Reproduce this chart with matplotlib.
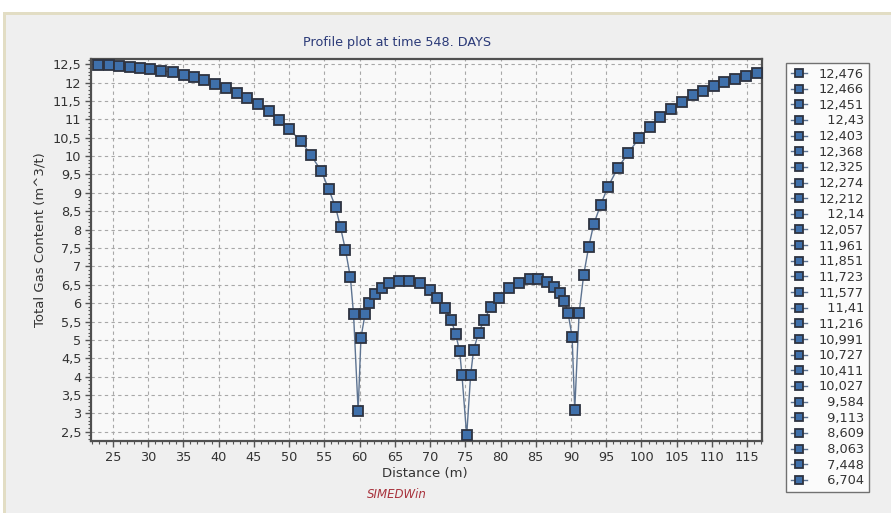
import matplotlib
matplotlib.use("Agg")
import matplotlib.pyplot as plt
from matplotlib.ticker import MultipleLocator, FuncFormatter
from matplotlib.patches import Rectangle

# ---- data ----
distance = [22.9, 24.4, 25.9, 27.4, 28.8, 30.3, 31.9, 33.5, 35.1, 36.5, 37.9, 39.5,
            41.0, 42.6, 44.1, 45.6, 47.2, 48.6, 50.0, 51.7, 53.1, 54.6, 55.6, 56.6,
            57.3, 58.0, 58.7, 59.15, 59.8, 60.2, 60.78, 61.4, 62.25, 63.17, 64.25,
            65.55, 67.07, 68.6, 69.98, 71.05, 72.12, 73.0, 73.63, 74.2, 74.53, 75.2,
            75.76, 76.18, 76.89, 77.7, 78.6, 79.79, 81.2, 82.67, 84.13, 85.37, 86.65,
            87.55, 88.4, 89.06, 89.59, 90.16, 90.53, 91.15, 91.8, 92.52, 93.23, 94.22,
            95.26, 96.63, 98.15, 99.67, 101.18, 102.6, 104.12, 105.68, 107.24, 108.76,
            110.27, 111.69, 113.21, 114.77, 116.43]
gas_content = [12.476, 12.466, 12.451, 12.43, 12.403, 12.368, 12.325, 12.274, 12.212,
               12.14, 12.057, 11.961, 11.851, 11.723, 11.577, 11.41, 11.216, 10.991,
               10.727, 10.411, 10.027, 9.584, 9.113, 8.609, 8.063, 7.448, 6.704,
               5.70, 3.07, 5.06, 5.70, 6.01, 6.24, 6.41, 6.55, 6.60, 6.60, 6.55, 6.35,
               6.15, 5.86, 5.55, 5.16, 4.70, 4.04, 2.40, 4.04, 4.73, 5.19, 5.55, 5.89,
               6.15, 6.40, 6.56, 6.65, 6.65, 6.58, 6.43, 6.27, 6.06, 5.72, 5.09, 3.09,
               5.72, 6.77, 7.54, 8.15, 8.68, 9.17, 9.67, 10.09, 10.49, 10.78, 11.05,
               11.28, 11.47, 11.65, 11.78, 11.91, 12.01, 12.10, 12.19, 12.27]
n_legend = 27
title = "Profile plot at time 548. DAYS"
xlabel = "Distance (m)"
ylabel = "Total Gas Content (m^3/t)"
footer = "SIMEDWin"

W, H = 891, 513
fig = plt.figure(figsize=(W / 100, H / 100), dpi=100, facecolor="#efefef")

# outer white margins and beige frame
fig.patches.append(Rectangle((0, 1 - 12 / H), 1, 12 / H, transform=fig.transFigure,
                             facecolor="white", edgecolor="none", zorder=-5))
fig.patches.append(Rectangle((0, 0), 3 / W, 1, transform=fig.transFigure,
                             facecolor="white", edgecolor="none", zorder=-5))
fig.patches.append(Rectangle((3 / W, 1 - 15 / H), 1, 3 / H, transform=fig.transFigure,
                             facecolor="#e2ddc4", edgecolor="none", zorder=-4))
fig.patches.append(Rectangle((3 / W, 0), 3 / W, 1 - 12 / H, transform=fig.transFigure,
                             facecolor="#e2ddc4", edgecolor="none", zorder=-4))

ax = fig.add_axes([91 / W, 1 - 441 / H, (762 - 91) / W, (441 - 59) / H])
ax.set_facecolor("#f9f9f9")

line_col = "#5d7391"
face_col = "#3f70ab"
edge_col = "#2e3340"

ax.plot(distance, gas_content, color=line_col, lw=1.0, zorder=2)
for xv, yv in zip(distance, gas_content):
    lab = f"{yv:g}".replace(".", ",")
    lab = "\u2007" * (6 - len(lab)) + lab
    ax.plot([xv], [yv], marker="s", ms=7.5, mfc=face_col, mec=edge_col, mew=1.3,
            color=line_col, lw=1.0, label=lab, zorder=3, clip_on=False)

ax.set_xlim(21.9, 117.1)
ax.set_ylim(2.25, 12.64)
ax.xaxis.set_major_locator(MultipleLocator(5))
ax.xaxis.set_minor_locator(MultipleLocator(1))
ax.yaxis.set_major_locator(MultipleLocator(0.5))
ax.yaxis.set_minor_locator(MultipleLocator(0.1))
fmt = FuncFormatter(lambda v, p: f"{v:g}".replace(".", ","))
ax.xaxis.set_major_formatter(fmt)
ax.yaxis.set_major_formatter(fmt)
ax.tick_params(axis="both", which="major", direction="out", length=4, width=1,
               color="#555555", labelcolor="#333333", labelsize=9.3, pad=3)
ax.tick_params(axis="both", which="minor", direction="out", length=2, width=0.8,
               color="#555555")
ax.grid(True, which="major", color="#a8a8a8", lw=0.8, ls=(0, (3, 3)))
ax.set_axisbelow(True)
for s in ax.spines.values():
    s.set_color("#505050")
    s.set_linewidth(1.6)

fig.text(397 / W, 1 - 43 / H, title, ha="center", va="center", fontsize=9.2,
         color="#2b3a78")
fig.text(425 / W, 1 - 473 / H, xlabel, ha="center", va="center", fontsize=9.5,
         color="#333333")
fig.text(40 / W, 1 - 240 / H, ylabel, ha="center", va="center", fontsize=9.5,
         color="#333333", rotation=90)
fig.text(397 / W, 1 - 495 / H, footer, ha="center", va="center", fontsize=8.5,
         color="#a8323c", style="italic")

handles, labels = ax.get_legend_handles_labels()
leg = ax.legend(handles[:n_legend], labels[:n_legend], loc="upper left",
                bbox_to_anchor=(786 / W, 1 - 63 / H), bbox_transform=fig.transFigure,
                borderaxespad=0, frameon=True, fancybox=False, fontsize=9.3,
                labelspacing=0.205, handlelength=1.3, handletextpad=0.9,
                borderpad=0.35, markerscale=0.72)
leg.get_frame().set_edgecolor("#505050")
leg.get_frame().set_linewidth(1.0)
leg.get_frame().set_facecolor("white")
for t in leg.get_texts():
    t.set_color("#333333")

fig.savefig("out.png", dpi=100, facecolor=fig.get_facecolor())
